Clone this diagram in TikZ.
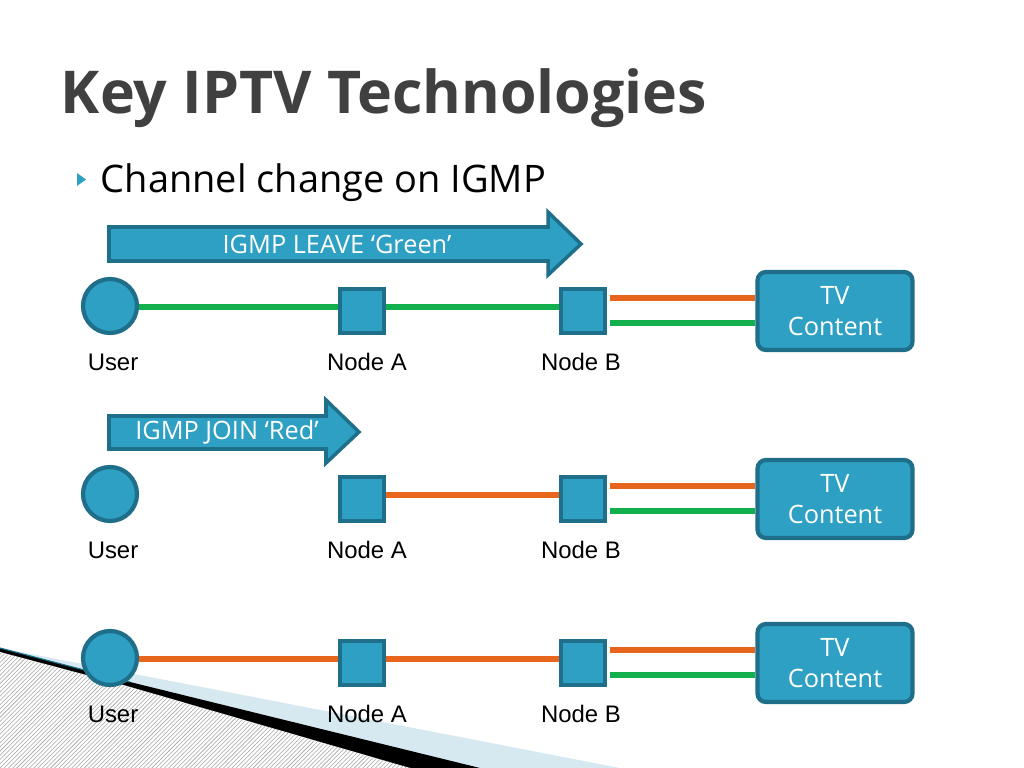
\documentclass[tikz,border=0pt]{standalone}
\usepackage{fontspec}
\setmainfont{Open Sans}
\newfontfamily\labelfont{Liberation Sans}
\usetikzlibrary{patterns, positioning, calc}
\definecolor{teal}{HTML}{2DA0C3}
\definecolor{tealdark}{HTML}{206F8A}
\definecolor{linkgreen}{HTML}{12B04C}
\definecolor{linkorange}{HTML}{E8651E}
\definecolor{titlegrey}{HTML}{404040}
\definecolor{paleblue}{HTML}{D6E8F0}
\begin{document}
\begin{tikzpicture}[x=0.025cm, y=-0.025cm]
    % --- Style Definitions ---
    \tikzset{
        user style/.style={circle, draw=tealdark, line width=3pt, fill=teal,
            minimum size=54*0.025cm, inner sep=0pt},
        router style/.style={rectangle, draw=tealdark, line width=3pt, fill=teal,
            minimum size=44*0.025cm, inner sep=0pt},
        content style/.style={rectangle, rounded corners=6pt, draw=tealdark,
            line width=3pt, fill=teal, minimum width=155*0.025cm,
            minimum height=78*0.025cm, align=center, text=white,
            font=\fontsize{18}{22}\selectfont},
        caption text/.style={font=\labelfont\fontsize{17}{20}\selectfont},
        green link/.style={draw=linkgreen, line width=4.3pt},
        orange link/.style={draw=linkorange, line width=4.3pt},
        msg arrow/.style={fill=teal, draw=tealdark, line width=2.5pt}
    }
    \useasboundingbox (0,0) rectangle (1024,768);

    % --- decoration bottom left ---
    \fill[paleblue] (0,648) -- (620,768) -- (0,768) -- cycle;
    \fill[black] (0,648) -- (130,682) -- (480,768) -- (0,768) -- cycle;
    \fill[white] (0,652) -- (120,684) -- (410,768) -- (0,768) -- cycle;
    \fill[pattern=north east lines, pattern color=gray!70]
        (0,652) -- (120,684) -- (410,768) -- (0,768) -- cycle;
    \draw[tealdark, line width=0.8pt] (0,648) -- (130,682);

    % --- title and bullet ---
    \node[anchor=west, text=titlegrey, font=\fontsize{42}{48}\selectfont\bfseries]
        (title) at (56,98) {Key IPTV Technologies};
    \fill[teal] (77,173) -- (86,179.5) -- (77,186) -- cycle;
    \node[anchor=west, font=\fontsize{27}{31}\selectfont] (bullet) at (96,183)
        {Channel change on IGMP};

    % --- message arrows ---
    \draw[msg arrow] (109,227) -- (548,227) -- (548,212) -- (581,244)
        -- (548,275) -- (548,261) -- (109,261) -- cycle;
    \node[text=white, font=\fontsize{18}{21}\selectfont] (leave) at (337,244)
        {IGMP LEAVE ‘Green’};
    \draw[msg arrow] (109,416) -- (326,416) -- (326,400) -- (359,432)
        -- (326,463) -- (326,449) -- (109,449) -- cycle;
    \node[text=white, font=\fontsize{18}{21}\selectfont] (join) at (227,432)
        {IGMP JOIN ‘Red’};

    % --- rows ---
    \foreach \row/\y in {one/307, two/495, three/659} {
        \node[user style] (user\row) at (110,\y-1) {};
        \node[router style] (nodeA\row) at (362,\y+4) {};
        \node[router style] (nodeB\row) at (583,\y+4) {};
        \node[content style] (tv\row) at (835,\y+4) {TV\\Content};
        \coordinate (link\row) at (0,\y);
        \coordinate (upper\row) at (610,\y-9);
        \coordinate (lower\row) at (610,\y+16);
        \node[caption text] at (113,\y+55) {User};
        \node[caption text] at (367,\y+55) {Node A};
        \node[caption text] at (581,\y+55) {Node B};
        \draw[orange link] (upper\row) -- (upper\row -| tv\row.west);
        \draw[green link] (lower\row) -- (lower\row -| tv\row.west);
    }

    % row 1: green path
    \draw[green link] (userone.east |- linkone) -- (nodeAone.west |- linkone);
    \draw[green link] (nodeAone.east |- linkone) -- (nodeBone.west |- linkone);
    % row 2: orange only A to B
    \draw[orange link] (nodeAtwo.east |- linktwo) -- (nodeBtwo.west |- linktwo);
    % row 3: orange path
    \draw[orange link] (userthree.east |- linkthree) -- (nodeAthree.west |- linkthree);
    \draw[orange link] (nodeAthree.east |- linkthree) -- (nodeBthree.west |- linkthree);
\end{tikzpicture}
\end{document}
